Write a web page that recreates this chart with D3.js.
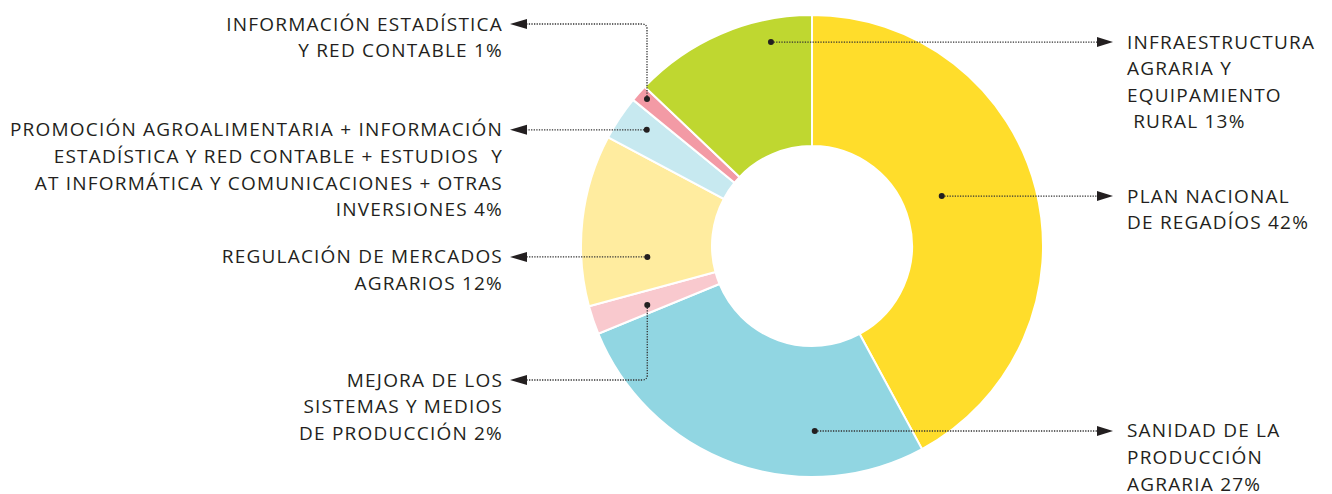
<!DOCTYPE html>
<html>
<head>
<meta charset="utf-8">
<script src="https://cdn.jsdelivr.net/npm/d3@7"></script>
<style>
  body { margin: 0; background: #fff; }
  text { font-family: "Open Sans", sans-serif; fill: #231f20; white-space: pre; }
</style>
</head>
<body>
<svg id="chart" width="1332" height="494"></svg>
<script>
// slices, clockwise from the top
var categories = [
  "Plan Nacional de Regadíos",
  "Sanidad de la Producción Agraria",
  "Mejora de los Sistemas y Medios de Producción",
  "Regulación de Mercados Agrarios",
  "Promoción Agroalimentaria + Otras",
  "Información Estadística y Red Contable",
  "Infraestructura Agraria y Equipamiento Rural"
];
var values = [42.1, 26.7, 2.0, 12.0, 3.1, 1.2, 12.9];
var colors = ["#ffdd2b", "#91d6e2", "#f9c9ce", "#ffec9f", "#c7e9f0", "#f39aa5", "#bfd730"];
var labels = [
  ["PLAN NACIONAL", "DE REGADÍOS 42%"],
  ["SANIDAD DE LA", "PRODUCCIÓN", "AGRARIA 27%"],
  ["MEJORA DE LOS", "SISTEMAS Y MEDIOS", "DE PRODUCCIÓN 2%"],
  ["REGULACIÓN DE MERCADOS", "AGRARIOS 12%"],
  ["PROMOCIÓN AGROALIMENTARIA + INFORMACIÓN", "ESTADÍSTICA Y RED CONTABLE + ESTUDIOS  Y", "AT INFORMÁTICA Y COMUNICACIONES + OTRAS", "INVERSIONES 4%"],
  ["INFORMACIÓN ESTADÍSTICA", "Y RED CONTABLE 1%"],
  ["INFRAESTRUCTURA", "AGRARIA Y", "EQUIPAMIENTO", " RURAL 13%"]
];

// leader layout: where the dot sits inside its slice, label side and row (null = same as dot)
var dotFrac = [0.455, 0.287, 0.36, 0.262, 0.63, 0.57, 0.755];
var dotRad = [139, 185, 175, 165, 202, 221, 208];
var sides = ["right", "right", "left", "left", "left", "left", "right"];
var labelRow = [null, null, 380, null, null, 24, null];

var cx = 812, cy = 246, outerR = 231, innerR = 100;
var lineH = 26.6;

var svg = d3.select("#chart");
var g = svg.append("g").attr("transform", "translate(" + cx + "," + cy + ")");

var pie = d3.pie().sort(null).value(function (d) { return d; });
var arcs = pie(values);
var arc = d3.arc().innerRadius(innerR).outerRadius(outerR);

g.selectAll("path.slice")
  .data(arcs)
  .enter()
  .append("path")
  .attr("class", "slice")
  .attr("d", arc)
  .attr("fill", function (d, i) { return colors[i]; })
  .attr("stroke", "#fff")
  .attr("stroke-width", 2);

var lines = svg.append("g");
arcs.forEach(function (a, i) {
  var ang = a.startAngle + (a.endAngle - a.startAngle) * dotFrac[i];
  var x0 = cx + dotRad[i] * Math.sin(ang);
  var y0 = cy - dotRad[i] * Math.cos(ang);
  var right = sides[i] === "right";
  var ly = labelRow[i] === null ? y0 : labelRow[i];
  var lineEnd = right ? 1097 : 527;
  var tip = right ? 1113 : 510;

  var p = d3.path();
  p.moveTo(x0, y0);
  if (Math.abs(ly - y0) > 2) {
    var s = ly < y0 ? -1 : 1;
    p.lineTo(x0, ly - s * 5);
    p.quadraticCurveTo(x0, ly, x0 - 5, ly);
  }
  p.lineTo(lineEnd, ly);
  lines.append("path")
    .attr("d", p.toString())
    .attr("fill", "none")
    .attr("stroke", "#333")
    .attr("stroke-width", 1.3)
    .attr("stroke-dasharray", "1.3,1.3");

  lines.append("path")
    .attr("d", "M" + tip + "," + ly + "L" + lineEnd + "," + (ly - 5) + "L" + lineEnd + "," + (ly + 5) + "Z")
    .attr("fill", "#231f20");

  lines.append("circle")
    .attr("cx", x0).attr("cy", y0).attr("r", 3)
    .attr("fill", "#231f20");

  var tx = right ? 1127 : 503;
  var t = lines.append("text")
    .attr("text-anchor", right ? "start" : "end")
    .style("font-size", "19px")
    .style("letter-spacing", "1.2px");
  labels[i].forEach(function (str, k) {
    t.append("tspan")
      .attr("x", tx)
      .attr("y", ly + 6.5 + k * lineH)
      .text(str);
  });
});
</script>
</body>
</html>
